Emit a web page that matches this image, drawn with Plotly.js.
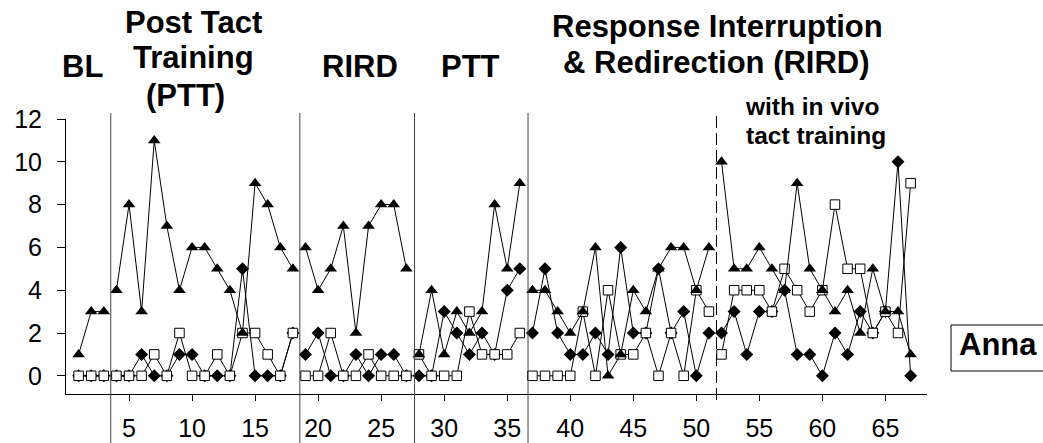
<!DOCTYPE html>
<html>
<head>
<meta charset="utf-8">
<script src="https://cdn.plot.ly/plotly-3.0.1.min.js"></script>
<style>
  html, body { margin: 0; padding: 0; background: #ffffff; }
  #chart { width: 1043px; height: 443px; }
</style>
</head>
<body>
<div id="chart"></div>
<script>
// Session numbers and the three measures recorded for Anna
const sessions = [
  1, 2, 3, 4, 5, 6, 7, 8, 9, 10, 11, 12, 13, 14, 15, 16, 17, 18, 19, 20,
  21, 22, 23, 24, 25, 26, 27, 28, 29, 30, 31, 32, 33, 34, 35, 36, 37, 38, 39, 40,
  41, 42, 43, 44, 45, 46, 47, 48, 49, 50, 51, 52, 53, 54, 55, 56, 57, 58, 59, 60,
  61, 62, 63, 64, 65, 66, 67
];

const triangleSeries = [
  1, 3, 3, 4, 8, 3, 11, 7, 4, 6, 6, 5, 4, 2, 9, 8, 6, 5, 6, 4,
  5, 7, 2, 7, 8, 8, 5, 1, 4, 1, 3, 2, 3, 8, 5, 9, 4, 4, 3, 2,
  3, 6, 0, 1, 4, 3, 5, 6, 6, 4, 6, 10, 5, 5, 6, 5, 4, 9, 5, 4,
  3, 4, 2, 5, 3, 3, 1
];

const diamondSeries = [
  0, 0, 0, 0, 0, 1, 0, 0, 1, 1, 0, 0, 0, 5, 0, 0, 0, 2, 1, 2,
  0, 0, 1, 0, 1, 1, 0, 0, 0, 3, 2, 1, 2, 1, 4, 5, 2, 5, 2, 1,
  1, 2, 1, 6, 2, 2, 5, 2, 3, 0, 2, 2, 3, 1, 3, 3, 4, 1, 1, 0,
  2, 1, 3, 2, 3, 10, 0
];

const squareSeries = [
  0, 0, 0, 0, 0, 0, 1, 0, 2, 0, 0, 1, 0, 2, 2, 1, 0, 2, 0, 0,
  2, 0, 0, 1, 0, 0, 0, 1, 0, 0, 0, 3, 1, 1, 1, 2, 0, 0, 0, 0,
  3, 0, 4, 1, 1, 2, 0, 2, 0, 4, 3, 1, 4, 4, 4, 3, 5, 4, 3, 4,
  8, 5, 5, 2, 3, 2, 9
];

// First session of each phase (paths are broken at these points)
const phaseStarts = [4, 19, 28, 37, 52];

// Phase-change lines (solid) and the in-vivo tact training line (dashed)
const phaseLines = [3.55, 18.55, 27.65, 36.65];
const subPhaseLine = 51.6;

const xTicks = [5, 10, 15, 20, 25, 30, 35, 40, 45, 50, 55, 60, 65];
const yTicks = [0, 2, 4, 6, 8, 10, 12];

// Insert a gap before each phase start so lines do not cross phase boundaries
function withGaps(xs, ys) {
  const gx = [], gy = [];
  xs.forEach((x, i) => {
    if (phaseStarts.includes(x)) { gx.push(x - 0.5); gy.push(null); }
    gx.push(x); gy.push(ys[i]);
  });
  return { x: gx, y: gy };
}

const dia = withGaps(sessions, diamondSeries);
const sq = withGaps(sessions, squareSeries);
const tri = withGaps(sessions, triangleSeries);

const traces = [
  {
    x: dia.x, y: dia.y, type: 'scatter', mode: 'lines+markers',
    connectgaps: false, cliponaxis: false,
    line: { color: '#000', width: 1 },
    marker: { symbol: 'diamond', size: 10, color: '#000', line: { width: 0 } },
    hoverinfo: 'skip'
  },
  {
    x: sq.x, y: sq.y, type: 'scatter', mode: 'lines+markers',
    connectgaps: false, cliponaxis: false,
    line: { color: '#000', width: 1 },
    marker: { symbol: 'square', size: 9.5, color: '#fff', line: { color: '#000', width: 1 } },
    hoverinfo: 'skip'
  },
  {
    x: tri.x, y: tri.y, type: 'scatter', mode: 'lines+markers',
    connectgaps: false, cliponaxis: false,
    line: { color: '#000', width: 1 },
    marker: { symbol: 'triangle-up', size: 11, color: '#000', line: { width: 0 } },
    hoverinfo: 'skip'
  }
];

// Plot area in pixels
const L = 66, T = 119, W = 861, H = 275;
const px = v => (v - L) / W;
const py = v => (T + H - v) / H;

const shapes = phaseLines.map(x => ({
  type: 'line', xref: 'x', yref: 'paper',
  x0: x, x1: x, y0: py(443), y1: py(113),
  line: { color: '#444', width: 1 }, layer: 'above'
}));
shapes.push({
  type: 'line', xref: 'x', yref: 'paper',
  x0: subPhaseLine, x1: subPhaseLine, y0: py(400), y1: py(114),
  line: { color: '#000', width: 1, dash: '12px,5px' }, layer: 'above'
});
// Participant label box
shapes.push({
  type: 'rect', xref: 'paper', yref: 'paper',
  x0: px(951), x1: px(1048), y0: py(371), y1: py(325),
  line: { color: '#000', width: 1 }, fillcolor: 'rgba(0,0,0,0)'
});

const titleFont = { family: 'Liberation Sans, Arial, sans-serif', size: 31, color: '#000' };
const smallFont = { family: 'Liberation Sans, Arial, sans-serif', size: 24.5, color: '#000' };

function label(text, cx, cy, font) {
  return {
    text: '<b>' + text + '</b>', xref: 'paper', yref: 'paper',
    x: px(cx), y: py(cy), xanchor: 'center', yanchor: 'middle',
    showarrow: false, font: font, borderpad: 0
  };
}

const annotations = [
  label('BL', 82, 67, titleFont),
  label('Post Tact', 193, 23, titleFont),
  label('Training', 193, 57, titleFont),
  label('(PTT)', 185, 95, titleFont),
  label('RIRD', 360, 67, titleFont),
  label('PTT', 470, 67, titleFont),
  label('Response Interruption', 717, 26, titleFont),
  label('&amp; Redirection (RIRD)', 716, 62, titleFont),
  label('with in vivo', 812, 107, smallFont),
  label('tact training', 816, 135, smallFont),
  label('Anna', 998, 344, titleFont)
];

const tickFont = { family: 'Liberation Sans, Arial, sans-serif', size: 25, color: '#000' };

const layout = {
  width: 1043, height: 443,
  margin: { l: L, r: 1043 - L - W, t: T, b: 443 - T - H, pad: 0 },
  paper_bgcolor: '#fff', plot_bgcolor: '#fff',
  showlegend: false,
  xaxis: {
    range: [0, 68.3], tickvals: xTicks, ticktext: xTicks.map(String),
    showgrid: false, zeroline: false, showline: true, linecolor: '#000', linewidth: 1,
    ticks: 'outside', ticklen: 6, tickcolor: '#000', tickwidth: 1,
    tickfont: tickFont, ticklabelstandoff: 6
  },
  yaxis: {
    range: [-0.85, 12], tickvals: yTicks, ticktext: yTicks.map(String),
    showgrid: false, zeroline: false, showline: true, linecolor: '#000', linewidth: 1,
    ticks: 'outside', ticklen: 8, tickcolor: '#000', tickwidth: 1,
    tickfont: tickFont, ticklabelstandoff: 10
  },
  shapes: shapes,
  annotations: annotations
};

Plotly.newPlot('chart', traces, layout, { staticPlot: true, displayModeBar: false });
</script>
</body>
</html>
